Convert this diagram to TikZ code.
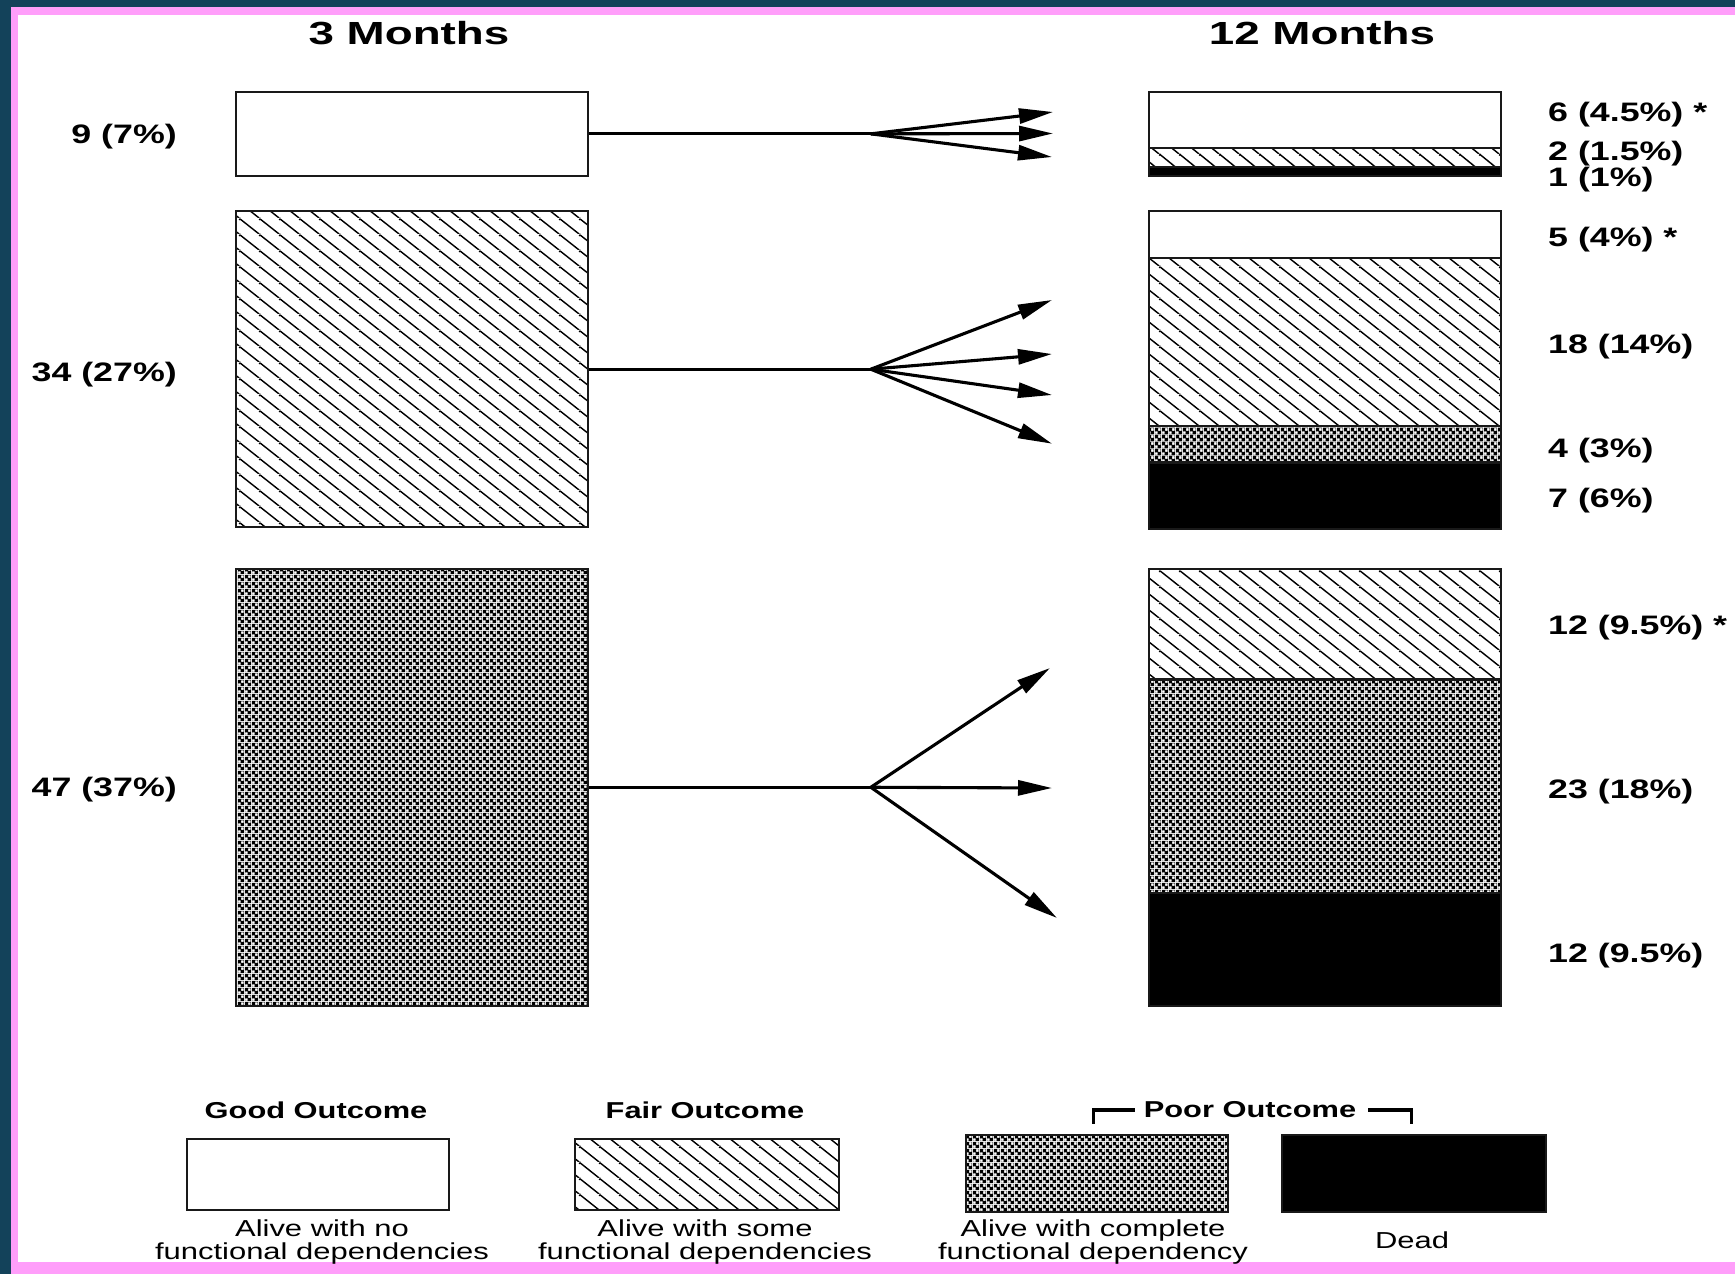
\documentclass[tikz,border=0pt]{standalone}
\usepackage{fontspec}
\setmainfont{Liberation Sans}[FakeStretch=1.34]
\newfontfamily\headfont{Liberation Sans}[FakeStretch=1.43]
\usepackage{tikz}
\usetikzlibrary{arrows.meta,patterns.meta,positioning,calc}

\definecolor{frameblue}{HTML}{13425A}
\definecolor{framepink}{HTML}{FF9EFA}

% fill patterns of the outcome classes
\tikzdeclarepattern{
  name=fairhatch,
  type=uncolored,
  bounding box={(0pt,0pt) and (20pt,16pt)},
  tile size={(20pt,16pt)},
  code={
    \draw[line width=1.5pt] (-20pt,16pt) -- (0pt,0pt)
      (0pt,16pt) -- (20pt,0pt)
      (20pt,16pt) -- (40pt,0pt);
  }
}
\tikzdeclarepattern{
  name=poorcheck,
  type=uncolored,
  bounding box={(0pt,0pt) and (7pt,7pt)},
  tile size={(7pt,7pt)},
  code={
    \fill[even odd rule] (0pt,0pt) rectangle (7pt,7pt)
      (0pt,0pt) rectangle (3pt,3pt) (3.5pt,3.5pt) rectangle (6.5pt,6.5pt);
  }
}

\begin{document}
\begin{tikzpicture}[x=1pt, y=-1pt,
    seg/.style={draw=black!90, line width=2.2pt, inner sep=0pt, anchor=north west, minimum width=352pt},
    good/.style={seg, fill=white},
    fair/.style={seg, pattern=fairhatch},
    poor/.style={seg, pattern=poorcheck},
    dead/.style={seg, fill=black},
    colhead/.style={font=\headfont\bfseries\fontsize{32}{36}\selectfont, inner sep=0pt},
    cnt/.style={font=\bfseries\fontsize{26.7}{30}\selectfont, inner sep=0pt},
    keyhead/.style={font=\bfseries\fontsize{23}{26}\selectfont, inner sep=0pt},
    keytext/.style={font=\fontsize{23.1}{23}\selectfont, align=center, inner sep=0pt},
    fanarrow/.style={line width=3.1pt, -{Triangle[length=34pt, width=15pt]}}]
  \useasboundingbox (0,0) rectangle (1735,1274);
  \fill[frameblue] (0,0) rectangle (1735,1274);
  \fill[framepink] (11,7) rectangle (1735,1274);
  \fill[white] (18,15) rectangle (1735,1262);

  \node[colhead] (m3) at (409,33) {3 Months};
  \node[colhead] (m12) at (1322,33) {12 Months};

  % 3 months
  \node[good, minimum height=84.1pt] (good3) at (234.6,90.7) {};
  \node[fair, minimum height=315.8pt] (fair3) at (234.6,210.2) {};
  \node[poor, minimum height=437.1pt] (poor3) at (234.6,567.6) {};
  \node[cnt, anchor=east] (ngood3) at (177,136.5) {9 (7\%)};
  \node[cnt, anchor=east] (nfair3) at (177,374.5) {34 (27\%)};
  \node[cnt, anchor=east] (npoor3) at (177,789.5) {47 (37\%)};

  % 12 months
  \node[good, minimum height=56.5pt] (aGood) at (1147.5,90.7) {};
  \node[fair, minimum height=18.8pt] (aFair) at (1147.5,147.2) {};
  \node[dead, minimum height=8.8pt] (aDead) at (1147.5,166) {};
  \node[good, minimum height=46.5pt] (bGood) at (1147.5,210.2) {};
  \node[fair, minimum height=168.2pt] (bFair) at (1147.5,256.7) {};
  \node[poor, minimum height=36.5pt] (bPoor) at (1147.5,424.9) {};
  \node[dead, minimum height=66.4pt] (bDead) at (1147.5,461.4) {};
  \node[fair, minimum height=110.7pt] (cFair) at (1147.5,567.6) {};
  \node[poor, minimum height=213.5pt] (cPoor) at (1147.5,678.3) {};
  \node[dead, minimum height=112.9pt] (cDead) at (1147.5,891.8) {};

  \node[cnt, anchor=west] (naGood) at (1548,115) {6 (4.5\%) *};
  \node[cnt, anchor=west] (naFair) at (1548,154) {2 (1.5\%)};
  \node[cnt, anchor=west] (naDead) at (1548,179.5) {1 (1\%)};
  \node[cnt, anchor=west] (nbGood) at (1548,239.3) {5 (4\%) *};
  \node[cnt, anchor=west] (nbFair) at (1548,346.5) {18 (14\%)};
  \node[cnt, anchor=west] (nbPoor) at (1548,450.5) {4 (3\%)};
  \node[cnt, anchor=west] (nbDead) at (1548,501) {7 (6\%)};
  \node[cnt, anchor=west] (ncFair) at (1548,627.5) {12 (9.5\%) *};
  \node[cnt, anchor=west] (ncPoor) at (1548,791.5) {23 (18\%)};
  \node[cnt, anchor=west] (ncDead) at (1548,955.2) {12 (9.5\%)};

  % transitions
  \coordinate[right=282pt of good3.east] (forkA);
  \coordinate[right=282pt of fair3.east] (forkB);
  \coordinate[right=282pt of poor3.east] (forkC);
  \coordinate (tA1) at (1053,112);
  \coordinate (tA2) at (1053,133.5);
  \coordinate (tA3) at (1052,157);
  \coordinate (tB1) at (1052,300);
  \coordinate (tB2) at (1052,354);
  \coordinate (tB3) at (1052,395);
  \coordinate (tB4) at (1052,443.7);
  \coordinate (tC1) at (1050,668);
  \coordinate (tC2) at (1052,788);
  \coordinate (tC3) at (1057,918);
  \draw[line width=3.1pt] (good3.east) -- (forkA);
  \draw[line width=3.1pt] (fair3.east) -- (forkB);
  \draw[line width=3.1pt] (poor3.east) -- (forkC);
  \foreach \t in {tA1,tA2,tA3}
    \draw[fanarrow] (forkA) -- (\t);
  \foreach \t in {tB1,tB2,tB3,tB4}
    \draw[fanarrow] (forkB) -- (\t);
  \foreach \t in {tC1,tC2,tC3}
    \draw[fanarrow] (forkC) -- (\t);

  % key
  \node[good, minimum width=262pt, minimum height=71pt] (keyGood) at (186,1138) {};
  \node[fair, minimum width=264pt, minimum height=71pt] (keyFair) at (573.5,1138) {};
  \node[poor, minimum width=262.5pt, minimum height=77pt] (keyPoor) at (964.5,1134) {};
  \node[dead, minimum width=264pt, minimum height=77pt] (keyDead) at (1281,1134) {};
  \node[keyhead] (hGood) at (316,1110) {Good Outcome};
  \node[keyhead] (hFair) at (705,1110) {Fair Outcome};
  \node[keyhead] (hPoor) at (1250,1110) {Poor Outcome};
  \draw[line width=3.1pt] ([xshift=-9pt]hPoor.west) -- ++(-41,0) -- ++(0,14);
  \draw[line width=3.1pt] ([xshift=12pt]hPoor.east) -- ++(43,0) -- ++(0,14);
  \node[keytext] (tGood) at (322,1242) {Alive with no\\functional dependencies};
  \node[keytext] (tFair) at (705,1242) {Alive with some\\functional dependencies};
  \node[keytext] (tPoor) at (1093,1242) {Alive with complete\\functional dependency};
  \node[keytext] (tDead) at (1412,1240) {Dead};
\end{tikzpicture}
\end{document}
